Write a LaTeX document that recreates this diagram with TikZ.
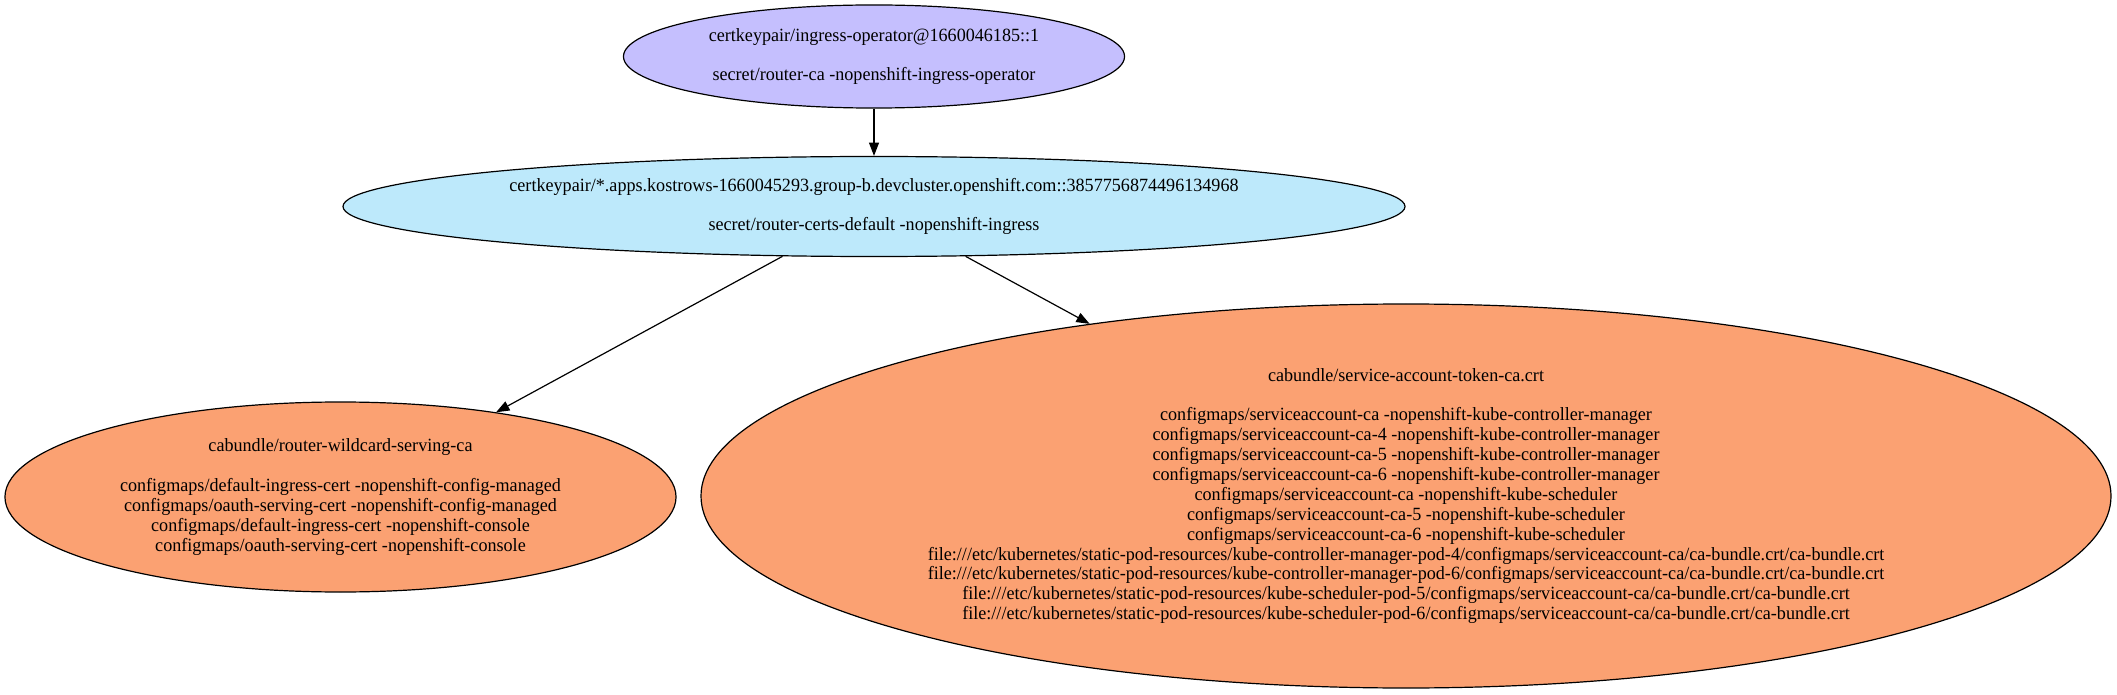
\documentclass[tikz,border=0pt]{standalone}
\usepackage{fontspec}
\setmainfont{Liberation Serif}[FakeStretch=0.97]
\usetikzlibrary{shapes.geometric,arrows.meta}
\definecolor{keyfill}{HTML}{C5BFFE}
\definecolor{certfill}{HTML}{BDE9FB}
\definecolor{bundlefill}{HTML}{FBA172}

\begin{document}
\begin{tikzpicture}[
  font=\fontsize{14}{14.9}\selectfont,
  every node/.style={inner sep=0pt},
  blob/.style={ellipse, draw=black, line width=0.9pt},
  keypair/.style={blob, fill=keyfill},
  servcert/.style={blob, fill=certfill},
  bundle/.style={blob, fill=bundlefill},
  txt/.style={align=center},
  edge/.style={-{Triangle[length=10pt,width=7.5pt]}, line width=0.9pt},
  x=0.75pt, y=-0.75pt
]
\useasboundingbox (0,0) rectangle (2117,695);

% signer at the top
\node[keypair, minimum width=375.8pt, minimum height=77.3pt,
  label={[txt]center:{certkeypair/ingress-operator@1660046185::1\\[14.9pt]
    secret/router-ca -nopenshift-ingress-operator}}] (operatorca) at (874,56.5) {};

% serving cert in the middle
\node[servcert, minimum width=796.5pt, minimum height=75pt,
  label={[txt]center:{certkeypair/*.apps.kostrows-1660045293.group-b.devcluster.openshift.com::3857756874496134968\\[14.9pt]
    secret/router-certs-default -nopenshift-ingress}}] (routercerts) at (874,206.5) {};

% bundles at the bottom
\node[bundle, minimum width=503.3pt, minimum height=142.5pt,
  label={[txt]center:{cabundle/router-wildcard-serving-ca\\[14.9pt]
    configmaps/default-ingress-cert -nopenshift-config-managed\\
    configmaps/oauth-serving-cert -nopenshift-config-managed\\
    configmaps/default-ingress-cert -nopenshift-console\\
    configmaps/oauth-serving-cert -nopenshift-console}}] (wildcardca) at (340.5,497) {};

\node[bundle, minimum width=1057.5pt, minimum height=288pt,
  label={[txt]center:{cabundle/service-account-token-ca.crt\\[14.9pt]
    configmaps/serviceaccount-ca -nopenshift-kube-controller-manager\\
    configmaps/serviceaccount-ca-4 -nopenshift-kube-controller-manager\\
    configmaps/serviceaccount-ca-5 -nopenshift-kube-controller-manager\\
    configmaps/serviceaccount-ca-6 -nopenshift-kube-controller-manager\\
    configmaps/serviceaccount-ca -nopenshift-kube-scheduler\\
    configmaps/serviceaccount-ca-5 -nopenshift-kube-scheduler\\
    configmaps/serviceaccount-ca-6 -nopenshift-kube-scheduler\\
    file:///etc/kubernetes/static-pod-resources/kube-controller-manager-pod-4/configmaps/serviceaccount-ca/ca-bundle.crt/ca-bundle.crt\\
    file:///etc/kubernetes/static-pod-resources/kube-controller-manager-pod-6/configmaps/serviceaccount-ca/ca-bundle.crt/ca-bundle.crt\\
    file:///etc/kubernetes/static-pod-resources/kube-scheduler-pod-5/configmaps/serviceaccount-ca/ca-bundle.crt/ca-bundle.crt\\
    file:///etc/kubernetes/static-pod-resources/kube-scheduler-pod-6/configmaps/serviceaccount-ca/ca-bundle.crt/ca-bundle.crt}}] (satokenca) at (1406,496) {};

% edges
\draw[edge] (operatorca) -- (routercerts);
\draw[edge] (routercerts) -- (wildcardca);
\draw[edge] (routercerts) -- (satokenca);

\end{tikzpicture}
\end{document}
